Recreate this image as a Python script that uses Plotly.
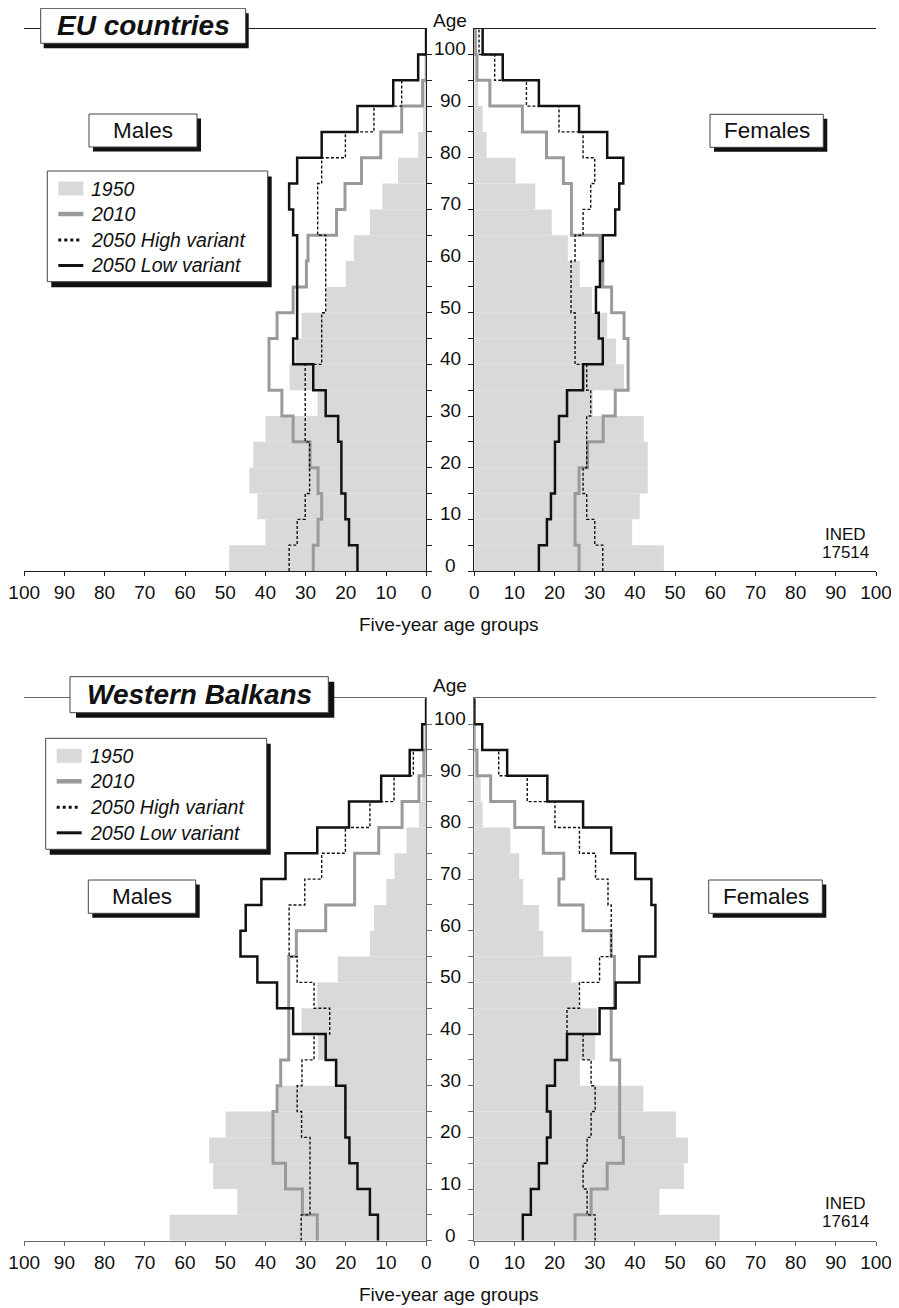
import plotly.graph_objects as go

# page is 899x1308; the figure div sits 8px in from the top-left (body margin)
PAGE_W, PAGE_H = 899, 1308
OFF = 8
W, H = PAGE_W - OFF, PAGE_H - OFF
FONT = "Liberation Sans, Arial, Helvetica, sans-serif"
NARROW = "Liberation Sans Narrow, Arial Narrow, Liberation Sans, sans-serif"

# ---------------- data (five-year age groups 0-4 ... 100-104) ----------------
AGE_STARTS = list(range(0, 105, 5))
AGE_TICKS = list(range(0, 101, 10))
X_TICKS = list(range(0, 101, 10))
SERIES = ["1950", "2010", "2050 High variant", "2050 Low variant"]

eu_m_1950 = [49.0, 40.0, 42.0, 44.0, 43.0, 40.0, 27.0, 34.0, 32.5, 31.0, 24.8, 20.0, 18.0, 14.0, 10.9, 7.0, 2.0, 0.8, 0.3, 0.0, 0.0]
eu_m_2010 = [28.1, 26.9, 26.0, 26.9, 28.9, 33.1, 35.9, 39.1, 39.1, 37.1, 33.1, 29.8, 29.4, 22.3, 20.2, 16.1, 11.3, 6.1, 0.9, 0.0, 0.0]
eu_m_high = [34.1, 32.1, 30.1, 29.0, 29.0, 30.1, 30.1, 30.1, 26.0, 26.0, 25.0, 25.0, 25.0, 27.0, 27.0, 26.0, 20.1, 13.0, 6.1, 2.0, 0.0]
eu_m_low = [17.1, 19.2, 20.1, 21.1, 21.1, 21.9, 25.0, 28.1, 33.1, 32.1, 32.1, 32.1, 32.1, 33.1, 34.1, 32.1, 26.0, 17.1, 8.2, 2.0, 0.0]

eu_f_1950 = [47.2, 39.3, 41.2, 43.2, 43.2, 42.2, 29.5, 37.3, 35.3, 33.1, 29.3, 26.3, 23.3, 19.3, 15.2, 10.3, 3.1, 2.1, 1.0, 0.3, 0.0]
eu_f_2010 = [26.1, 25.1, 25.1, 26.1, 28.2, 32.1, 35.1, 38.3, 38.3, 37.3, 34.2, 32.0, 31.3, 24.2, 24.2, 22.2, 18.0, 12.0, 3.9, 0.7, 0.3]
eu_f_high = [32.0, 30.0, 28.0, 27.1, 28.0, 28.0, 29.0, 28.0, 25.1, 25.1, 24.1, 24.1, 25.1, 27.1, 29.0, 30.0, 27.1, 21.1, 13.0, 5.1, 1.2]
eu_f_low = [16.1, 18.1, 19.1, 20.1, 20.1, 21.1, 23.1, 27.1, 32.0, 31.0, 30.3, 31.3, 32.0, 35.1, 36.1, 37.1, 33.1, 26.1, 16.1, 7.1, 2.1]

wb_m_1950 = [63.8, 47.0, 53.0, 54.0, 49.9, 36.8, 22.8, 26.9, 31.0, 27.1, 22.0, 14.0, 13.0, 9.9, 7.9, 4.9, 1.8, 1.0, 0.4, 0.0, 0.0]
wb_m_2010 = [27.1, 30.8, 35.0, 38.1, 38.1, 37.1, 36.2, 34.2, 34.2, 34.2, 34.2, 32.3, 25.0, 17.8, 17.8, 11.8, 6.0, 1.8, 0.6, 0.0, 0.0]
wb_m_high = [31.1, 28.9, 28.9, 28.9, 31.0, 32.1, 30.9, 27.9, 24.0, 27.9, 32.1, 34.1, 34.1, 30.2, 26.0, 20.1, 14.0, 8.0, 3.2, 1.0, 0.0]
wb_m_low = [12.0, 14.0, 17.1, 19.1, 20.1, 20.1, 22.4, 25.0, 33.1, 37.1, 42.0, 46.2, 44.9, 41.0, 35.0, 27.1, 19.2, 11.2, 4.1, 1.0, 0.0]

wb_f_1950 = [61.1, 46.1, 52.2, 53.2, 50.2, 42.1, 26.3, 30.1, 30.6, 26.0, 24.2, 17.2, 16.1, 12.2, 11.2, 9.0, 2.1, 1.6, 0.8, 0.0, 0.0]
wb_f_2010 = [25.1, 29.1, 33.1, 37.1, 36.2, 36.2, 36.2, 34.1, 34.1, 34.9, 34.9, 34.1, 27.1, 21.1, 22.3, 17.2, 10.1, 4.1, 0.7, 0.0, 0.0]
wb_f_high = [30.1, 28.1, 27.1, 28.1, 29.1, 30.1, 29.1, 27.1, 23.1, 26.2, 31.2, 34.1, 34.1, 33.3, 30.2, 26.2, 20.1, 13.2, 6.1, 2.0, 0.0]
wb_f_low = [12.1, 14.1, 16.1, 18.1, 19.0, 18.1, 20.1, 23.1, 31.2, 35.2, 41.1, 45.1, 45.1, 44.1, 40.1, 34.1, 27.1, 18.2, 8.2, 2.0, 0.0]

# ---------------- styling ----------------
C_1950 = "#d9d9d9"
C_2010 = "#9a9a9a"
C_BLACK = "#111111"


def X(p):
    """page pixel x -> paper fraction"""
    return (p - OFF) / W


def Y(p):
    """page pixel y -> paper fraction"""
    return 1 - (p - OFF) / H


LEFT_DOM = [X(24.2), X(426.2)]
RIGHT_DOM = [X(474.2), X(876.0)]

charts = [
    dict(title="EU countries", base=571.0, top=28.6, lc="#1e1e1e",
         males=(eu_m_1950, eu_m_2010, eu_m_high, eu_m_low),
         females=(eu_f_1950, eu_f_2010, eu_f_high, eu_f_low),
         ined="17514",
         tbox=(40.7, 8.3, 245.7, 43.3, 3, 5),
         mbox=(89.0, 114.0, 197.0, 147.0),
         fbox=(710.0, 114.3, 823.3, 147.3),
         leg=(47.3, 171.0, 267.7, 281.7),
         age_top=8.0, xtitle_y=624.0),
    dict(title="Western Balkans", base=1240.7, top=698.3, lc="#6a6a6a",
         males=(wb_m_1950, wb_m_2010, wb_m_high, wb_m_low),
         females=(wb_f_1950, wb_f_2010, wb_f_high, wb_f_low),
         ined="17614",
         tbox=(70.0, 676.7, 328.3, 712.7, 6, 5),
         mbox=(88.3, 880.0, 195.7, 913.3),
         fbox=(708.7, 880.0, 822.3, 913.3),
         leg=(45.7, 738.3, 266.7, 849.3),
         age_top=673.0, xtitle_y=1294.0),
]

fig = go.Figure()
layout_axes = {}
shapes = []
annotations = []


def aname(kind, k):
    return f"{kind}axis" if k == 1 else f"{kind}axis{k}"


def aref(kind, k):
    return kind if k == 1 else f"{kind}{k}"


mids = [a + 2.5 for a in AGE_STARTS]
steps_y = AGE_STARTS + [105]

line_traces = []
for ci, ch in enumerate(charts):
    ydom = [Y(ch["base"]), Y(ch["top"])]
    for si, (sex, dom) in enumerate([("males", LEFT_DOM), ("females", RIGHT_DOM)]):
        k = ci * 2 + si + 1
        ko = k + 4
        left = si == 0
        xr = [100, 0] if left else [0, 100]
        lc = ch["lc"]
        layout_axes[aname("x", k)] = dict(
            domain=dom, range=xr, anchor=aref("y", k), showline=True, mirror=True,
            linecolor=lc, linewidth=1, ticks="outside", ticklen=4, tickwidth=1, tickcolor=lc,
            tickvals=X_TICKS, tickfont=dict(size=19, color="#111", family=FONT),
            showgrid=False, zeroline=False, fixedrange=True, automargin=False)
        layout_axes[aname("x", ko)] = dict(
            overlaying=aref("x", k), anchor=aref("y", k), side="bottom", range=xr,
            ticks="inside", ticklen=5, tickwidth=1, tickcolor=lc, tickvals=X_TICKS,
            showticklabels=False, showline=False, showgrid=False, zeroline=False,
            fixedrange=True, automargin=False)
        layout_axes[aname("y", k)] = dict(
            domain=ydom, range=[0, 105], anchor=aref("x", k), side="right" if left else "left",
            showline=True, linecolor=lc, linewidth=1, ticks="outside", ticklen=5, tickwidth=1,
            tickcolor=lc, tickvals=list(range(0, 101, 5)), showticklabels=False,
            showgrid=False, zeroline=False, fixedrange=True, automargin=False)
        layout_axes[aname("y", ko)] = dict(
            overlaying=aref("y", k), anchor=aref("x", k), side="left" if left else "right",
            range=[0, 105], showline=True, linecolor=lc, linewidth=1, ticks="inside", ticklen=10,
            tickwidth=1, tickcolor=lc, tickvals=AGE_TICKS, showticklabels=False,
            showgrid=False, zeroline=False, fixedrange=True, automargin=False)

        v1950, v2010, vhigh, vlow = ch[sex]
        xa, ya = aref("x", k), aref("y", k)
        fig.add_trace(go.Bar(x=v1950, y=mids, orientation="h", width=5, xaxis=xa, yaxis=ya,
                             marker=dict(color=C_1950, line=dict(width=0)), showlegend=False,
                             name=SERIES[0], hoverinfo="skip"))
        for vals, color, width, dash, nm in [
            (v2010, C_2010, 3, "solid", SERIES[1]),
            (vhigh, C_BLACK, 1.4, "3px,2px", SERIES[2]),
            (vlow, C_BLACK, 2.5, "solid", SERIES[3]),
        ]:
            line_traces.append(go.Scatter(x=list(vals) + [vals[-1]], y=steps_y, mode="lines",
                                          line=dict(color=color, width=width, dash=dash, shape="vh"),
                                          xaxis=xa, yaxis=ya, showlegend=False, name=nm,
                                          hoverinfo="skip"))

    # central age labels
    yref = aref("y", ci * 2 + 1)
    for a in AGE_TICKS:
        annotations.append(dict(x=X(450), xref="paper", y=a, yref=yref, text=str(a),
                                showarrow=False, xanchor="center", yanchor="middle", yshift=5.5,
                                font=dict(size=19, color="#111", family=FONT)))
    annotations.append(dict(x=X(450), xref="paper", y=Y(ch["age_top"]), yref="paper", text="Age",
                            showarrow=False, xanchor="center", yanchor="top",
                            font=dict(size=19, color="#111", family=FONT)))
    annotations.append(dict(x=X(449), xref="paper", y=Y(ch["xtitle_y"]), yref="paper",
                            text="Five-year age groups", showarrow=False, xanchor="center",
                            yanchor="middle", font=dict(size=19, color="#111", family=FONT)))
    annotations.append(dict(x=X(845), xref="paper", y=Y(ch["base"] - 37), yref="paper", text="INED",
                            showarrow=False, xanchor="center", yanchor="middle",
                            font=dict(size=17, color="#111", family=NARROW)))
    annotations.append(dict(x=X(845), xref="paper", y=Y(ch["base"] - 19), yref="paper", text=ch["ined"],
                            showarrow=False, xanchor="center", yanchor="middle",
                            font=dict(size=17, color="#111", family=NARROW)))

    # boxes with drop shadows
    def add_box(x0, y0, x1, y1, dx, dy, text, size, bold_italic=False):
        shapes.append(dict(type="rect", xref="paper", yref="paper", x0=X(x0 + dx), x1=X(x1 + dx),
                           y0=Y(y1 + dy), y1=Y(y0 + dy), fillcolor="#111", line=dict(width=0),
                           layer="above"))
        shapes.append(dict(type="rect", xref="paper", yref="paper", x0=X(x0), x1=X(x1),
                           y0=Y(y1), y1=Y(y0), fillcolor="white", line=dict(color="#444", width=1),
                           layer="above"))
        if text:
            t = f"<b><i>{text}</i></b>" if bold_italic else text
            annotations.append(dict(x=X((x0 + x1) / 2), xref="paper", y=Y((y0 + y1) / 2), yref="paper",
                                    text=t, showarrow=False, xanchor="center", yanchor="middle",
                                    font=dict(size=size, color="#111", family=FONT)))

    tx0, ty0, tx1, ty1, tdx, tdy = ch["tbox"]
    add_box(tx0, ty0, tx1, ty1, tdx, tdy, ch["title"], 28, True)
    add_box(*ch["mbox"], 4, 4.5, "Males", 22.5)
    add_box(*ch["fbox"], 4, 4.5, "Females", 22.5)

    lx0, ly0, lx1, ly1 = ch["leg"]
    add_box(lx0, ly0, lx1, ly1, 4, 5.5, None, 0)
    offs = [17.5, 43.0, 69.0, 94.5]
    sx0, sx1 = lx0 + 11, lx0 + 36
    shapes.append(dict(type="rect", xref="paper", yref="paper", x0=X(sx0), x1=X(sx1),
                       y0=Y(ly0 + offs[0] + 7), y1=Y(ly0 + offs[0] - 7), fillcolor=C_1950,
                       line=dict(width=0), layer="above"))
    shapes.append(dict(type="line", xref="paper", yref="paper", x0=X(sx0), x1=X(sx1),
                       y0=Y(ly0 + offs[1]), y1=Y(ly0 + offs[1]), line=dict(color=C_2010, width=4.5),
                       layer="above"))
    shapes.append(dict(type="line", xref="paper", yref="paper", x0=X(sx0), x1=X(sx1 - 2),
                       y0=Y(ly0 + offs[2]), y1=Y(ly0 + offs[2]),
                       line=dict(color=C_BLACK, width=3, dash="3px,3px"), layer="above"))
    shapes.append(dict(type="line", xref="paper", yref="paper", x0=X(sx0), x1=X(sx1),
                       y0=Y(ly0 + offs[3]), y1=Y(ly0 + offs[3]), line=dict(color=C_BLACK, width=3),
                       layer="above"))
    for nm, off in zip(SERIES, offs):
        annotations.append(dict(x=X(lx0 + 42), xref="paper", y=Y(ly0 + off), yref="paper",
                                text=f"<i>{nm}</i>", showarrow=False, xanchor="left", yanchor="middle",
                                font=dict(size=19.5, color="#111", family=FONT)))

for tr in line_traces:
    fig.add_trace(tr)

fig.update_layout(
    width=W, height=H, autosize=False,
    margin=dict(l=0, r=0, t=0, b=0, pad=0),
    paper_bgcolor="white", plot_bgcolor="white",
    showlegend=False, barmode="overlay",
    font=dict(family=FONT, color="#111"),
    shapes=shapes, annotations=annotations,
    **layout_axes,
)

fig.write_html("out.html")
